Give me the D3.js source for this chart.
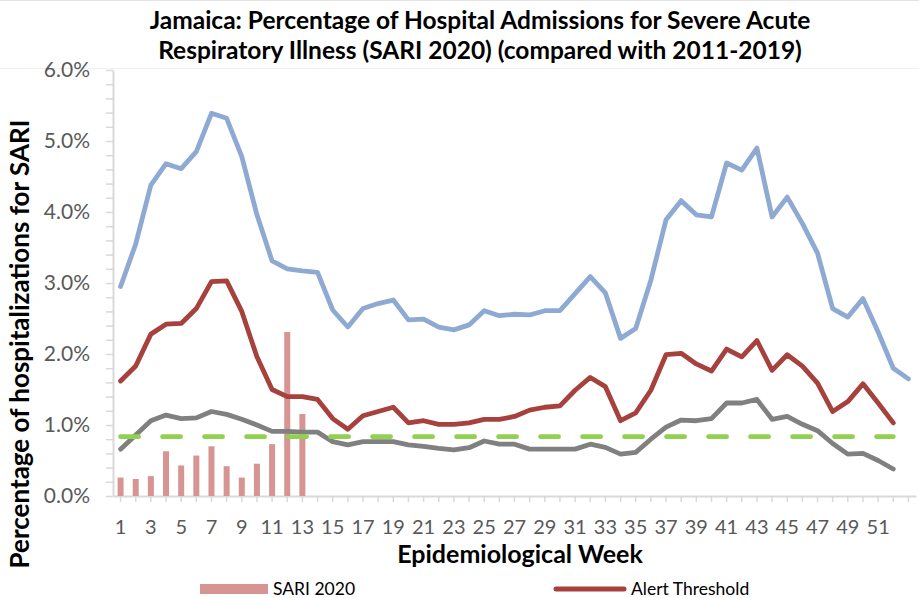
<!DOCTYPE html>
<html>
<head>
<meta charset="utf-8">
<script src="https://cdn.jsdelivr.net/npm/d3@7/dist/d3.min.js"></script>
<style>
  body { margin: 0; background: #fff; }
  svg { display: block; font-family: Lato, "Open Sans", sans-serif; }
</style>
</head>
<body>
<div id="chart"></div>
<script>
// epidemiological weeks shown on the category axis
var weeks = [1, 2, 3, 4, 5, 6, 7, 8, 9, 10, 11, 12, 13, 14, 15, 16, 17, 18, 19, 20,
  21, 22, 23, 24, 25, 26, 27, 28, 29, 30, 31, 32, 33, 34, 35, 36, 37, 38, 39, 40,
  41, 42, 43, 44, 45, 46, 47, 48, 49, 50, 51, 52, 53];

// SARI 2020 (bars), weeks 1-13, in %
var sari2020 = [0.26, 0.24, 0.28, 0.63, 0.43, 0.57, 0.70, 0.42, 0.26, 0.455, 0.73, 2.31, 1.155];

// 2011-2019 upper curve (blue), weeks 1-53
var upperCurve = [2.95, 3.55, 4.38, 4.68, 4.61, 4.85, 5.39, 5.32, 4.78, 3.96,
  3.31, 3.20, 3.17, 3.15, 2.62, 2.38, 2.64, 2.71, 2.76, 2.48,
  2.49, 2.38, 2.34, 2.41, 2.61, 2.54, 2.56, 2.55, 2.61, 2.61,
  2.85, 3.09, 2.86, 2.22, 2.36, 3.04, 3.89, 4.16, 3.96, 3.93,
  4.69, 4.59, 4.90, 3.93, 4.21, 3.84, 3.42, 2.64, 2.52, 2.78,
  2.31, 1.80, 1.65];

// Alert Threshold (red), weeks 1-52
var alertThreshold = [1.62, 1.83, 2.28, 2.42, 2.43, 2.64, 3.02, 3.03, 2.60, 1.96,
  1.50, 1.40, 1.40, 1.36, 1.09, 0.94, 1.13, 1.19, 1.25, 1.03,
  1.06, 1.01, 1.01, 1.03, 1.08, 1.08, 1.12, 1.21, 1.25, 1.27,
  1.49, 1.67, 1.54, 1.06, 1.17, 1.49, 1.99, 2.01, 1.86, 1.76,
  2.07, 1.96, 2.19, 1.77, 1.99, 1.83, 1.59, 1.19, 1.33, 1.58,
  1.31, 1.03];

// average curve (grey), weeks 1-52
var averageCurve = [0.66, 0.86, 1.06, 1.14, 1.09, 1.10, 1.19, 1.15, 1.08, 1.00,
  0.91, 0.91, 0.90, 0.90, 0.765, 0.72, 0.765, 0.765, 0.765, 0.72,
  0.70, 0.67, 0.65, 0.68, 0.775, 0.73, 0.73, 0.66, 0.66, 0.66,
  0.66, 0.73, 0.685, 0.59, 0.615, 0.80, 0.97, 1.07, 1.06, 1.09,
  1.31, 1.31, 1.36, 1.08, 1.12, 1.01, 0.92, 0.74, 0.59, 0.60,
  0.50, 0.38];

// baseline (green dashed), weeks 1-52
var baseline = [0.835, 0.835, 0.835, 0.835, 0.835, 0.835, 0.835, 0.835, 0.835, 0.835,
  0.835, 0.835, 0.835, 0.835, 0.835, 0.835, 0.835, 0.835, 0.835, 0.835,
  0.835, 0.835, 0.835, 0.835, 0.835, 0.835, 0.835, 0.835, 0.835, 0.835,
  0.835, 0.835, 0.835, 0.835, 0.835, 0.835, 0.835, 0.835, 0.835, 0.835,
  0.835, 0.835, 0.835, 0.835, 0.835, 0.835, 0.835, 0.835, 0.835, 0.835,
  0.835, 0.835];

var yTicks = [0, 1, 2, 3, 4, 5, 6];
var yMinorTicks = [0.2, 0.4, 0.6, 0.8, 1.2, 1.4, 1.6, 1.8, 2.2, 2.4, 2.6, 2.8,
  3.2, 3.4, 3.6, 3.8, 4.2, 4.4, 4.6, 4.8, 5.2, 5.4, 5.6, 5.8];
var xLabels = [1, 3, 5, 7, 9, 11, 13, 15, 17, 19, 21, 23, 25, 27, 29, 31, 33, 35,
  37, 39, 41, 43, 45, 47, 49, 51];

var width = 919,
  height = 598,
  plot = { left: 113, right: 916, top: 70, bottom: 496 };

var axisGrey = "#d9d9d9",
  labelGrey = "#595959";

var svg = d3.select("#chart")
  .append("svg")
  .attr("width", width)
  .attr("height", height);

// faint chart border + plot top edge
svg.append("line")
  .attr("x1", 0).attr("x2", width).attr("y1", 0.5).attr("y2", 0.5)
  .style("stroke", "#e3e3e3");
svg.append("line")
  .attr("x1", 0).attr("x2", width).attr("y1", 68.5).attr("y2", 68.5)
  .style("stroke", "#f0f0f0");

var x = d3.scaleBand()
  .domain(weeks)
  .range([plot.left, plot.right])
  .padding(0);

var y = d3.scaleLinear()
  .domain([0, 6])
  .range([plot.bottom, plot.top]);

function cx(w) {
  return x(w) + x.bandwidth() / 2;
}

// title
var title = svg.append("text")
  .attr("text-anchor", "middle")
  .style("font-weight", "bold")
  .style("font-size", "24.5px")
  .style("fill", "#000");
title.append("tspan").attr("x", 480).attr("y", 29)
  .text("Jamaica: Percentage of Hospital Admissions for Severe Acute");
title.append("tspan").attr("x", 480).attr("y", 59)
  .text("Respiratory Illness (SARI 2020) (compared with 2011-2019)");

// y axis
var yMinor = svg.append("g")
  .attr("transform", "translate(" + plot.left + ",0)")
  .call(d3.axisLeft(y).tickValues(yMinorTicks).tickSize(7).tickFormat(""));
yMinor.select(".domain").remove();

var yAxis = svg.append("g")
  .attr("transform", "translate(" + plot.left + ",0)")
  .call(d3.axisLeft(y)
    .tickValues(yTicks)
    .tickSize(7)
    .tickSizeOuter(0)
    .tickPadding(16)
    .tickFormat(function(d) { return d.toFixed(1) + "%"; }));

// x axis
var xAxis = svg.append("g")
  .attr("transform", "translate(0," + plot.bottom + ")")
  .call(d3.axisBottom(x)
    .tickSize(6)
    .tickSizeOuter(0)
    .tickPadding(18)
    .tickFormat(function(d) { return xLabels.indexOf(d) >= 0 ? d : ""; }));

[yMinor, yAxis, xAxis].forEach(function(g) {
  g.selectAll("line").style("stroke", axisGrey).style("stroke-width", 1.5);
  g.selectAll(".domain").style("stroke", axisGrey).style("stroke-width", 2);
  g.selectAll("text")
    .style("fill", labelGrey)
    .style("font-family", "Lato, sans-serif");
});
yAxis.selectAll("text").style("font-size", "21px");
xAxis.selectAll("text").style("font-size", "20px");

// axis titles
svg.append("text")
  .attr("transform", "translate(29,344) rotate(-90)")
  .attr("text-anchor", "middle")
  .style("font-weight", "bold")
  .style("font-size", "26px")
  .text("Percentage of hospitalizations for SARI");

svg.append("text")
  .attr("x", 520)
  .attr("y", 563)
  .attr("text-anchor", "middle")
  .style("font-weight", "bold")
  .style("font-size", "25px")
  .text("Epidemiological Week");

// bars
var barColor = "#d69593";
svg.append("g")
  .selectAll("rect")
  .data(sari2020)
  .enter().append("rect")
  .attr("x", function(d, i) { return cx(weeks[i]) - 3; })
  .attr("width", 6)
  .attr("y", function(d) { return y(d); })
  .attr("height", function(d) { return y(0) - y(d); })
  .style("fill", barColor);

// lines
var line = d3.line()
  .x(function(d, i) { return cx(weeks[i]); })
  .y(function(d) { return y(d); });

var series = [
  { values: averageCurve, color: "#808080", dash: null },
  { values: baseline, color: "#92d050", dash: "18,24" },
  { values: alertThreshold, color: "#a6413e", dash: null },
  { values: upperCurve, color: "#8eaad3", dash: null }
];

svg.append("g")
  .selectAll("path")
  .data(series)
  .enter().append("path")
  .attr("d", function(d) { return line(d.values); })
  .style("fill", "none")
  .style("stroke", function(d) { return d.color; })
  .style("stroke-width", 4.8)
  .style("stroke-linejoin", "round")
  .style("stroke-linecap", "round")
  .style("stroke-dasharray", function(d) { return d.dash; });

// legend (visible part)
var legend = svg.append("g").style("font-size", "17.5px").style("fill", "#000");
legend.append("rect")
  .attr("x", 200).attr("y", 584).attr("width", 68).attr("height", 10)
  .style("fill", barColor);
legend.append("text")
  .attr("x", 273).attr("y", 595)
  .text("SARI 2020");
legend.append("line")
  .attr("x1", 556).attr("x2", 624).attr("y1", 589).attr("y2", 589)
  .style("stroke", "#a6413e")
  .style("stroke-width", 5)
  .style("stroke-linecap", "round");
legend.append("text")
  .attr("x", 631).attr("y", 595)
  .text("Alert Threshold");
</script>
</body>
</html>
